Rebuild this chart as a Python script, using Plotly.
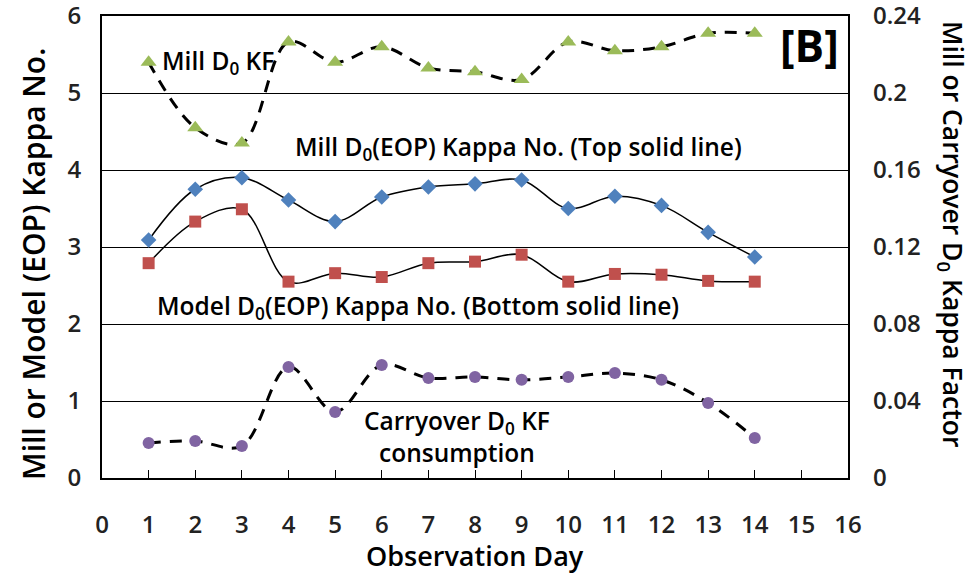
import plotly.graph_objects as go

days = list(range(1, 15))
mill_kf = [0.216, 0.182, 0.174, 0.2265, 0.216, 0.224, 0.213, 0.211, 0.207, 0.2265, 0.222, 0.224, 0.231, 0.231]
mill_kappa = [3.09, 3.75, 3.90, 3.61, 3.33, 3.65, 3.78, 3.82, 3.87, 3.50, 3.66, 3.54, 3.19, 2.87]
model_kappa = [2.79, 3.33, 3.49, 2.55, 2.66, 2.61, 2.79, 2.81, 2.90, 2.55, 2.65, 2.64, 2.56, 2.55]
carry_kf = [0.0182, 0.0192, 0.0166, 0.0577, 0.0343, 0.0587, 0.052, 0.0525, 0.051, 0.0525, 0.0545, 0.051, 0.039, 0.0208]
left_ticks = [0, 1, 2, 3, 4, 5, 6]
right_ticks = [0, 0.04, 0.08, 0.12, 0.16, 0.2, 0.24]
right_labels = ["0", "0.04", "0.08", "0.12", "0.16", "0.2", "0.24"]

FONT = "Open Sans"
W, H = 972, 579
L, R, T, B = 102, 124, 16, 101
pw, ph = W - L - R, H - T - B


def px(xp):
    return (xp - L) / pw


def py(yp):
    return (H - B - yp) / ph


fig = go.Figure()

dash_line = dict(color="black", width=3, dash="12px,9px", shape="spline", smoothing=1)
solid_line = dict(color="black", width=1.5, shape="spline", smoothing=1)

fig.add_trace(go.Scatter(x=days, y=mill_kappa, mode="lines+markers", line=solid_line,
                         marker=dict(symbol="diamond", size=12, color="#4F81BD"), yaxis="y"))
fig.add_trace(go.Scatter(x=days, y=model_kappa, mode="lines+markers", line=solid_line,
                         marker=dict(symbol="square", size=12, color="#C0504D"), yaxis="y"))
fig.add_trace(go.Scatter(x=days, y=mill_kf, mode="lines+markers", line=dash_line,
                         marker=dict(symbol="triangle-up", size=14, color="#9BBB59"), yaxis="y2"))
fig.add_trace(go.Scatter(x=days, y=carry_kf, mode="lines+markers", line=dash_line,
                         marker=dict(symbol="circle", size=12, color="#8064A2"), yaxis="y2"))

tf = dict(family=FONT, size=24.5, color="black", weight=600)
ann = dict(showarrow=False, font=tf, xref="x", yref="y")
annotations = [
    dict(text="Mill D<sub>0</sub> KF", x=1.25, y=5.4, xanchor="left", yanchor="middle", **ann),
    dict(text="Mill D<sub>0</sub>(EOP) Kappa No. (Top solid line)", x=4.1, y=4.29, xanchor="left", yanchor="middle", **ann),
    dict(text="Model D<sub>0</sub>(EOP) Kappa No. (Bottom solid line)", x=1.14, y=2.22, xanchor="left", yanchor="middle", **ann),
    dict(text="Carryover D<sub>0</sub> KF<br>consumption", x=7.62, y=0.545, xanchor="center", yanchor="middle", align="center", **ann),
    dict(text="<b>[B]</b>", x=15.84, y=5.62, xanchor="right", yanchor="middle", showarrow=False,
         font=dict(family=FONT, size=44, color="black"), xref="x", yref="y"),
    dict(text="Mill or Carryover D<sub>0</sub> Kappa Factor", x=px(952), y=py(234), xref="paper", yref="paper",
         xanchor="center", yanchor="middle", showarrow=False, textangle=90,
         font=dict(family=FONT, size=26.5, color="black", weight=600)),
    dict(text="Mill or Model (EOP) Kappa No.", x=px(33), y=py(264), xref="paper", yref="paper",
         xanchor="center", yanchor="middle", showarrow=False, textangle=-90,
         font=dict(family=FONT, size=30, color="black", weight=600)),
    dict(text="Observation Day", x=px(475), y=py(555), xref="paper", yref="paper",
         xanchor="center", yanchor="middle", showarrow=False,
         font=dict(family=FONT, size=27, color="black", weight=600)),
]

tickf = dict(family=FONT, size=24, color="#222", weight=600)
fig.update_layout(
    width=W, height=H,
    margin=dict(l=L, r=R, t=T, b=B, autoexpand=False),
    plot_bgcolor="white", paper_bgcolor="white",
    showlegend=False,
    font=dict(family=FONT, color="black"),
    annotations=annotations,
    xaxis=dict(range=[0, 16], dtick=1, tick0=0, showgrid=False, zeroline=False, automargin=False,
               showline=True, linecolor="black", linewidth=2, mirror=True,
               ticks="inside", ticklen=8, tickcolor="black", tickwidth=1,
               tickfont=tickf, ticklabelstandoff=24, ticklabeloverflow="allow"),
    yaxis=dict(range=[0, 6], tickmode="array", tickvals=left_ticks, showgrid=True, gridcolor="black", gridwidth=1,
               zeroline=False, showline=True, linecolor="black", linewidth=2, mirror=True, ticks="",
               automargin=False, tickfont=tickf, ticklabelstandoff=14, ticklabeloverflow="allow"),
    yaxis2=dict(range=[0, 0.24], tickmode="array", tickvals=right_ticks, ticktext=right_labels,
                overlaying="y", side="right", showgrid=False, zeroline=False, automargin=False,
                showline=False, ticks="", tickfont=tickf, ticklabelstandoff=24, ticklabeloverflow="allow"),
)

fig.write_html("out.html")
